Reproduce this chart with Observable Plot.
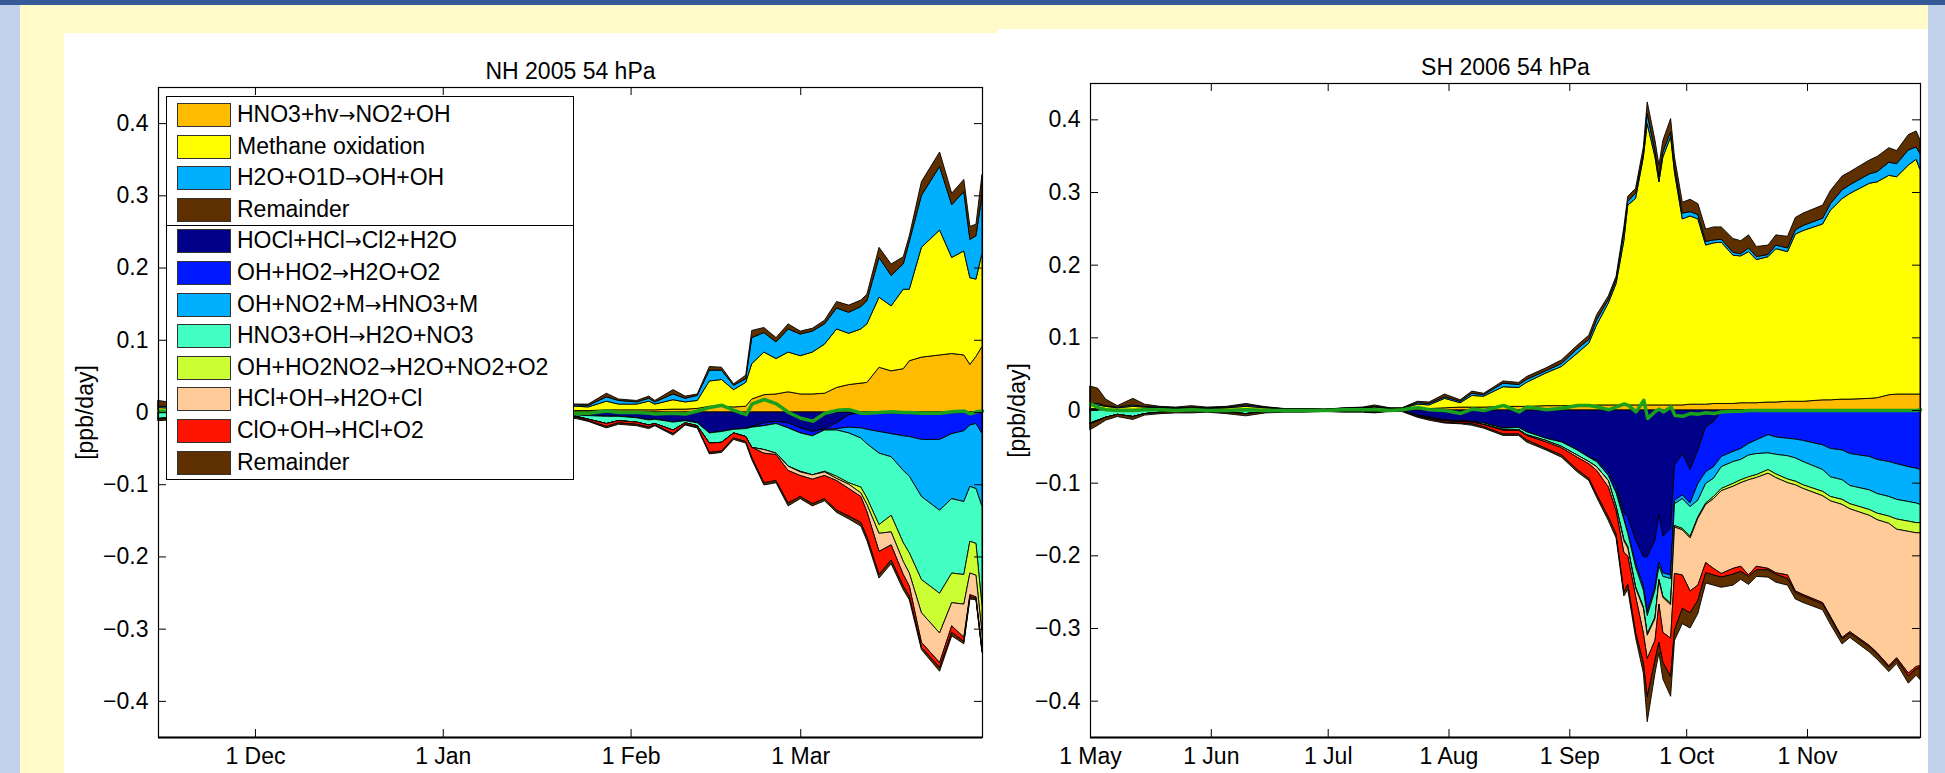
<!DOCTYPE html>
<html><head><meta charset="utf-8">
<script src="https://cdn.jsdelivr.net/npm/d3@7"></script>
<script src="https://cdn.jsdelivr.net/npm/@observablehq/plot@0.6"></script>
<style>
html,body{margin:0;padding:0}
body{width:1945px;height:773px;overflow:hidden;position:relative;background:#c2d1ea;font-family:"Liberation Sans",Arial,sans-serif}
#topbar{position:absolute;left:0;top:0;width:1945px;height:5px;background:#365a97}
#yellow{position:absolute;left:20px;top:5px;width:1908px;height:768px;background:#fffac8}
#pL{position:absolute;left:64px;top:33px;width:936px;height:740px;background:#fff}
#pR{position:absolute;left:997px;top:29px;width:931px;height:744px;background:#fff}
#pL svg,#pR svg{display:block}
#legend{position:absolute;left:166px;top:96px;width:408px;height:384px;box-sizing:border-box;border:1px solid #000;background:#fff;font-size:23px;color:#000}
.row{position:absolute;left:0;height:31.6px;width:100%}
.sw{position:absolute;left:10px;top:4px;width:52px;height:22px;border:1px solid #333}
.lb{position:absolute;left:70px;top:2px;line-height:26px;white-space:nowrap}
.ar{font-family:"DejaVu Sans",sans-serif;font-size:20px}
#sep{position:absolute;left:0;width:100%;height:0;border-top:1px solid #000}
</style></head>
<body>
<div id="topbar"></div><div id="yellow"></div>
<div id="pL"></div><div id="pR"></div>
<div id="legend"></div>
<script>
// ---------- shared ----------
const seriesKeys = ["HNO3+hv→NO2+OH","Methane oxidation","H2O+O1D→OH+OH","Remainder (prod)","HOCl+HCl→Cl2+H2O","OH+HO2→H2O+O2","OH+NO2+M→HNO3+M","HNO3+OH→H2O+NO3","OH+HO2NO2→H2O+NO2+O2","HCl+OH→H2O+Cl","ClO+OH→HCl+O2","Remainder (loss)"];
const seriesSign = [1,1,1,1,-1,-1,-1,-1,-1,-1,-1,-1];
const legendLabels = ["HNO3+hv→NO2+OH","Methane oxidation","H2O+O1D→OH+OH","Remainder","HOCl+HCl→Cl2+H2O","OH+HO2→H2O+O2","OH+NO2+M→HNO3+M","HNO3+OH→H2O+NO3","OH+HO2NO2→H2O+NO2+O2","HCl+OH→H2O+Cl","ClO+OH→HCl+O2","Remainder"];
const seriesColors = ["#ffbb00","#ffff00","#00b0ff","#5e3000","#000088","#0018ff","#00b0ff","#44ffc4","#ccff33","#ffcc99","#ff1400","#5e3000"];
const netColor = "#1aa01a";
const yTicks = [-0.4,-0.3,-0.2,-0.1,0,0.1,0.2,0.3,0.4];
const yTickLabels = ["−0.4","−0.3","−0.2","−0.1","0","0.1","0.2","0.3","0.4"];

// ---------- NH 2005 ----------
const nhTitle = "NH 2005 54 hPa";
const nhTickDates = ["2004-12-01","2005-01-01","2005-02-01","2005-03-01"];
const nhTickLabels = ["1 Dec","1 Jan","1 Feb","1 Mar"];
const nhDates = ["2004-11-15","2004-11-19","2004-11-25","2004-12-01","2004-12-08","2004-12-15","2004-12-22","2004-12-29","2005-01-05","2005-01-12","2005-01-19",
"2005-01-23","2005-01-25","2005-01-28","2005-01-30","2005-02-02","2005-02-04","2005-02-05","2005-02-08","2005-02-10","2005-02-12",
"2005-02-14","2005-02-16","2005-02-18","2005-02-20","2005-02-21","2005-02-23","2005-02-25","2005-02-27","2005-03-01","2005-03-03",
"2005-03-05","2005-03-07","2005-03-09","2005-03-11","2005-03-12","2005-03-14","2005-03-16","2005-03-18","2005-03-19","2005-03-21",
"2005-03-24","2005-03-26","2005-03-28","2005-03-29","2005-03-30","2005-03-31"];
const nhHNO3hv = [0.001,0.001,0.001,0.001,0.001,0.001,0.001,0.001,0.002,0.002,0.002,
0.002,0.002,0.003,0.003,0.003,0.003,0.003,0.004,0.004,0.005,
0.008,0.008,0.007,0.008,0.018,0.024,0.025,0.028,0.025,0.025,
0.026,0.034,0.038,0.040,0.041,0.062,0.057,0.060,0.071,0.076,
0.079,0.081,0.079,0.066,0.077,0.091];
const nhMethane = [0.005,0.004,0.004,0.003,0.003,0.003,0.004,0.004,0.005,0.005,0.006,
0.006,0.005,0.012,0.008,0.008,0.012,0.008,0.013,0.010,0.011,
0.035,0.037,0.024,0.033,0.049,0.059,0.049,0.055,0.053,0.058,
0.068,0.081,0.071,0.075,0.081,0.097,0.090,0.110,0.099,0.152,
0.173,0.133,0.144,0.120,0.107,0.129];
const nhH2OO1D = [0.002,0.002,0.001,0.001,0.001,0.001,0.001,0.001,0.002,0.002,0.002,
0.002,0.002,0.006,0.005,0.003,0.004,0.003,0.008,0.005,0.007,
0.015,0.013,0.006,0.005,0.036,0.027,0.023,0.032,0.030,0.029,
0.028,0.029,0.029,0.031,0.032,0.055,0.042,0.035,0.066,0.072,
0.088,0.073,0.082,0.053,0.060,0.080];
const nhRemainderProd = [0.008,0.004,0.003,0.002,0.002,0.002,0.002,0.002,0.002,0.002,0.002,
0.001,0.002,0.005,0.002,0.002,0.003,0.002,0.006,0.003,0.002,
0.005,0.004,0.002,0.005,0.010,0.007,0.006,0.007,0.004,0.004,
0.005,0.009,0.010,0.009,0.009,0.014,0.016,0.010,0.008,0.019,
0.020,0.016,0.017,0.018,0.016,0.029];
const nhHOClHCl = [-0.001,-0.001,-0.001,-0.002,-0.002,-0.002,-0.003,-0.003,-0.003,-0.004,-0.004,
-0.004,-0.005,-0.006,-0.006,-0.008,-0.011,-0.010,-0.014,-0.012,-0.015,
-0.029,-0.027,-0.024,-0.023,-0.020,-0.015,-0.013,-0.015,-0.022,-0.027,
-0.023,-0.015,-0.004,-0.001,-0.001,-0.001,-0.001,-0.001,-0.001,-0.001,
-0.001,-0.001,-0.001,-0.001,-0.001,-0.001];
const nhOHHO2 = [0,0,0,0,0,0,0,0,0,0,0,
0,0,0,0,0,0,0,0,0,0,
0,0,0,0,-0.001,-0.004,-0.003,-0.007,-0.007,-0.006,
-0.001,-0.008,-0.017,-0.021,-0.023,-0.026,-0.029,-0.032,-0.033,-0.037,
-0.037,-0.029,-0.025,-0.017,-0.015,-0.029];
const nhOHNO2M = [0,0,0,0,0,0,0,0,0,0,0,
0,0,0,0,0,0,0,0,0,0,
0,0,0,0,0,0,0,0,0,0,
-0.001,-0.002,-0.008,-0.014,-0.020,-0.030,-0.032,-0.048,-0.055,-0.079,
-0.098,-0.090,-0.098,-0.085,-0.090,-0.101];
const nhHNO3OH = [-0.008,-0.006,-0.005,-0.004,-0.004,-0.003,-0.003,-0.003,-0.003,-0.003,-0.003,
-0.002,-0.005,-0.010,-0.006,-0.006,-0.007,-0.006,-0.011,-0.003,-0.004,
-0.014,-0.015,-0.005,-0.011,-0.028,-0.033,-0.041,-0.053,-0.053,-0.054,
-0.057,-0.064,-0.069,-0.068,-0.075,-0.099,-0.081,-0.100,-0.106,-0.115,
-0.115,-0.103,-0.101,-0.076,-0.076,-0.138];
const nhOHHO2NO2 = [0,0,0,0,0,0,0,0,0,0,0,
0,0,0,0,0,0,0,0,0,0,
0,0,0,0,0,0,0,0,-0.001,0,
-0.001,-0.003,-0.002,-0.008,-0.009,-0.012,-0.023,-0.026,-0.028,-0.046,
-0.055,-0.041,-0.041,-0.044,-0.044,-0.037];
const nhHClOH = [0,0,0,0,0,0,0,0,0,0,0,
0,0,0,0,0,0,0,0,0,0,
0,0,0,0,0,-0.005,-0.002,-0.006,-0.005,-0.006,
-0.005,-0.003,-0.006,-0.005,-0.010,-0.025,-0.018,-0.018,-0.018,-0.041,
-0.041,-0.032,-0.046,-0.030,-0.030,-0.023];
const nhClOOH = [-0.001,-0.001,-0.001,-0.001,-0.001,-0.001,-0.001,-0.001,-0.001,-0.001,-0.001,
-0.001,-0.002,-0.004,-0.003,-0.003,-0.003,-0.002,-0.005,-0.002,-0.002,
-0.013,-0.012,-0.007,-0.007,-0.014,-0.041,-0.036,-0.045,-0.029,-0.034,
-0.032,-0.041,-0.038,-0.036,-0.035,-0.032,-0.021,-0.016,-0.014,-0.007,
-0.007,-0.009,-0.006,-0.003,-0.002,-0.002];
const nhRemainderLoss = [-0.002,-0.002,-0.002,-0.002,-0.002,-0.002,-0.002,-0.002,-0.002,-0.002,-0.002,
-0.002,-0.001,-0.002,-0.002,-0.002,-0.002,-0.001,-0.002,-0.001,-0.001,
-0.002,-0.002,-0.002,-0.002,-0.003,-0.003,-0.003,-0.004,-0.003,-0.003,
-0.003,-0.003,-0.004,-0.005,-0.005,-0.005,-0.005,-0.005,-0.005,-0.003,
-0.005,-0.005,-0.003,-0.003,-0.002,-0.002];
const nhNet = [0.002,0.001,0,-0.001,0,0,0,-0.001,0,-0.001,-0.001,
-0.001,-0.001,0.002,0,0,-0.001,-0.002,-0.001,-0.002,0.002,
0.007,0.010,0.003,-0.003,0.012,0.018,0.012,0,-0.008,-0.012,
-0.001,0.003,0.004,-0.001,-0.001,0,0.001,0,0,-0.001,
-0.001,0.001,0.002,-0.002,0.001,0.002];

// ---------- SH 2006 ----------
const shTitle = "SH 2006 54 hPa";
const shTickDates = ["2006-05-01","2006-06-01","2006-07-01","2006-08-01","2006-09-01","2006-10-01","2006-11-01"];
const shTickLabels = ["1 May","1 Jun","1 Jul","1 Aug","1 Sep","1 Oct","1 Nov"];
const shDates = ["2006-05-01","2006-05-03","2006-05-05","2006-05-08","2006-05-12","2006-05-15","2006-05-19","2006-05-23","2006-05-27","2006-05-31",
"2006-06-05","2006-06-10","2006-06-15","2006-06-20","2006-06-25","2006-06-30","2006-07-05","2006-07-10","2006-07-13","2006-07-17",
"2006-07-20","2006-07-24","2006-07-27","2006-07-31","2006-08-04","2006-08-07","2006-08-10","2006-08-15","2006-08-19","2006-08-21",
"2006-08-26","2006-08-30","2006-09-03","2006-09-06","2006-09-08","2006-09-11","2006-09-13","2006-09-15","2006-09-16","2006-09-18",
"2006-09-20","2006-09-21","2006-09-23","2006-09-24","2006-09-25","2006-09-27","2006-09-28","2006-09-30","2006-10-02","2006-10-04",
"2006-10-06","2006-10-08","2006-10-10","2006-10-13","2006-10-15","2006-10-17","2006-10-19","2006-10-22","2006-10-24","2006-10-27",
"2006-10-29","2006-10-31","2006-11-05","2006-11-07","2006-11-10","2006-11-12","2006-11-17","2006-11-19","2006-11-22","2006-11-24",
"2006-11-27","2006-11-29","2006-11-30"];
const shHNO3hv = [0.002,0.002,0.001,0.001,0.001,0.001,0.001,0.001,0.001,0.001,
0.001,0.001,0.001,0.0005,0.0005,0.0005,0.001,0.001,0.001,0.001,
0.001,0.002,0.002,0.003,0.004,0.004,0.004,0.005,0.005,0.005,
0.006,0.006,0.006,0.006,0.007,0.007,0.007,0.007,0.007,0.007,
0.007,0.007,0.007,0.007,0.007,0.007,0.007,0.007,0.008,0.008,
0.008,0.009,0.009,0.009,0.010,0.010,0.010,0.011,0.011,0.012,
0.012,0.012,0.014,0.014,0.015,0.015,0.016,0.017,0.021,0.022,
0.022,0.022,0.022];
const shMethane = [0.005,0.005,0.004,0.002,0.004,0.003,0.002,0.001,0.002,0.001,
0.002,0.004,0.002,0.001,0.001,0.0005,0.001,0.002,0.003,0.001,
0.001,0.006,0.005,0.013,0.006,0.016,0.015,0.027,0.026,0.033,
0.045,0.054,0.072,0.086,0.110,0.140,0.167,0.226,0.275,0.284,
0.341,0.387,0.341,0.307,0.341,0.369,0.320,0.256,0.259,0.255,
0.219,0.221,0.222,0.204,0.202,0.208,0.197,0.200,0.211,0.206,
0.230,0.235,0.242,0.261,0.276,0.283,0.296,0.297,0.302,0.299,
0.315,0.323,0.309];
const shH2OO1D = [0.002,0.002,0.001,0.001,0.002,0.001,0.001,0.001,0.001,0.001,
0.001,0.002,0.001,0,0,0,0.0005,0.0005,0.001,0.0005,
0.0005,0.002,0.002,0.002,0.002,0.003,0.002,0.005,0.004,0.004,
0.003,0.004,0.006,0.005,0.007,0.005,0.005,0.012,0.005,0.007,
0.005,0.014,0.007,0.007,0.007,0.007,0.007,0.008,0.006,0.006,
0.005,0.004,0.004,0.004,0.003,0.005,0.004,0.003,0.005,0.005,
0.006,0.007,0.008,0.009,0.012,0.012,0.013,0.014,0.018,0.018,
0.021,0.017,0.022];
const shRemainderProd = [0.024,0.021,0.009,0.002,0.009,0.003,0.001,0.001,0.002,0.001,
0.001,0.002,0.0005,0.0005,0.0005,0,0.0005,0.0005,0.002,0.0005,
0.0005,0.002,0.002,0.004,0.002,0.003,0.002,0.003,0.003,0.004,
0.004,0.005,0.005,0.006,0.007,0.005,0.005,0.007,0.007,0.007,
0.009,0.016,0.016,0.016,0.016,0.018,0.014,0.015,0.017,0.015,
0.017,0.018,0.017,0.019,0.018,0.018,0.014,0.013,0.014,0.016,
0.017,0.017,0.018,0.018,0.019,0.018,0.019,0.021,0.020,0.018,
0.021,0.022,0.019];
const shHOClHCl = [0,0,0,0,0,0,0,0,0,0,
0,0,0,-0.001,-0.001,-0.001,-0.001,-0.001,-0.002,-0.001,
-0.001,-0.007,-0.010,-0.014,-0.015,-0.016,-0.018,-0.025,-0.024,-0.030,
-0.039,-0.044,-0.055,-0.065,-0.069,-0.085,-0.105,-0.142,-0.147,-0.179,
-0.202,-0.202,-0.179,-0.144,-0.174,-0.163,-0.076,-0.060,-0.082,-0.055,
-0.023,-0.016,-0.002,0,0,0,0,0,0,0,
0,0,0,0,0,0,0,0,0,0,
0,0,0];
const shOHHO2 = [0,0,0,0,0,0,0,0,0,0,
0,0,0,0,0,0,0,0,0,0,
0,0,0,0,0,0,0,0,0,0,
0,0,0,0,-0.002,-0.005,-0.007,-0.007,-0.021,-0.032,
-0.041,-0.076,-0.064,-0.066,-0.050,-0.064,-0.048,-0.057,-0.046,-0.046,
-0.062,-0.062,-0.062,-0.057,-0.053,-0.046,-0.041,-0.034,-0.037,-0.039,
-0.040,-0.042,-0.048,-0.053,-0.055,-0.060,-0.064,-0.068,-0.071,-0.074,
-0.078,-0.080,-0.082];
const shOHNO2M = [0,0,0,0,0,0,0,0,0,0,
0,0,0,0,0,0,0,0,0,0,
0,0,0,0,0,0,0,0,0,0,
0,0,0,0,0,0,-0.002,-0.002,-0.002,-0.005,
-0.005,-0.005,-0.005,-0.005,-0.005,-0.005,-0.005,-0.005,-0.005,-0.023,
-0.016,-0.016,-0.014,-0.014,-0.015,-0.016,-0.019,-0.025,-0.024,-0.024,
-0.026,-0.029,-0.034,-0.039,-0.041,-0.044,-0.046,-0.047,-0.048,-0.049,
-0.048,-0.048,-0.048];
const shHNO3OH = [-0.018,-0.014,-0.010,-0.006,-0.009,-0.005,-0.003,-0.002,-0.002,-0.002,
-0.003,-0.005,-0.002,-0.001,-0.001,0,-0.001,-0.001,-0.001,0,
0,-0.001,-0.001,-0.001,-0.001,-0.001,-0.002,-0.002,-0.003,-0.004,
-0.003,-0.006,-0.007,-0.006,-0.007,-0.007,-0.018,-0.027,-0.018,-0.027,
-0.023,-0.025,-0.037,-0.018,-0.027,-0.034,-0.030,-0.041,-0.041,-0.023,
-0.027,-0.025,-0.030,-0.030,-0.028,-0.030,-0.029,-0.023,-0.027,-0.032,
-0.032,-0.032,-0.030,-0.027,-0.027,-0.025,-0.027,-0.027,-0.027,-0.027,
-0.027,-0.027,-0.025];
const shOHHO2NO2 = [0,0,0,0,0,0,0,0,0,0,
0,0,0,0,0,0,0,0,0,0,
0,0,0,0,0,0,0,0,0,0,
0,0,0,0,0,0,-0.001,-0.002,-0.002,-0.002,
-0.002,-0.002,-0.002,-0.002,-0.002,-0.002,-0.002,-0.002,-0.002,-0.002,
-0.002,-0.003,-0.003,-0.004,-0.004,-0.004,-0.004,-0.005,-0.005,-0.005,
-0.005,-0.005,-0.006,-0.006,-0.007,-0.007,-0.008,-0.009,-0.010,-0.014,
-0.014,-0.014,-0.014];
const shHClOH = [0,0,0,0,0,0,0,0,0,0,
0,0,0,0,0,0,0,0,0,0,
0,0,0,0,0,0,0,-0.001,-0.001,-0.001,
-0.002,-0.002,-0.003,-0.003,-0.005,-0.009,-0.006,-0.016,-0.011,-0.011,
-0.034,-0.032,-0.030,-0.032,-0.048,-0.046,-0.064,-0.062,-0.073,-0.092,
-0.080,-0.096,-0.114,-0.113,-0.115,-0.131,-0.122,-0.131,-0.131,-0.127,
-0.146,-0.146,-0.147,-0.159,-0.183,-0.169,-0.179,-0.183,-0.196,-0.177,
-0.195,-0.184,-0.183];
const shClOOH = [-0.001,-0.001,0,0,0,0,0,0,0,0,
0,0,0,0,0,0,0,0,0,0,
0,-0.001,-0.001,-0.002,-0.002,-0.002,-0.003,-0.005,-0.005,-0.006,
-0.009,-0.010,-0.017,-0.020,-0.033,-0.041,-0.032,-0.055,-0.039,-0.050,
-0.041,-0.053,-0.027,-0.053,-0.041,-0.053,-0.078,-0.046,-0.030,-0.021,
-0.014,-0.009,-0.005,-0.008,-0.007,-0.002,-0.005,-0.002,-0.002,-0.005,
-0.002,-0.002,-0.002,-0.002,-0.002,-0.002,-0.002,-0.002,-0.002,-0.002,
-0.004,-0.003,-0.003];
const shRemainderLoss = [-0.008,-0.006,-0.004,-0.003,-0.004,-0.002,-0.002,-0.002,-0.002,-0.001,
-0.002,-0.003,-0.002,-0.001,-0.001,-0.001,-0.001,-0.001,-0.001,-0.001,
-0.001,-0.001,-0.002,-0.001,-0.001,-0.002,-0.002,-0.002,-0.002,-0.003,
-0.002,-0.003,-0.003,-0.003,-0.004,-0.005,-0.005,-0.005,-0.007,-0.007,
-0.014,-0.034,-0.018,-0.014,-0.023,-0.027,-0.014,-0.021,-0.021,-0.018,
-0.014,-0.014,-0.014,-0.015,-0.011,-0.011,-0.009,-0.010,-0.011,-0.009,
-0.009,-0.009,-0.008,-0.009,-0.007,-0.006,-0.007,-0.007,-0.006,-0.006,
-0.010,-0.009,-0.016];
const shNet = [0.009,0.004,0.001,0,0,0.001,0.001,0,0.001,0,
0,0.001,0,0,0,0,0.001,0.001,0.001,0,
0.001,0.004,0.001,0,-0.004,0.002,0,0.007,-0.002,0.005,
0.001,0.003,0.007,0.007,0.005,0.001,0.005,0.009,0.007,-0.002,
0.014,-0.011,-0.001,0.002,-0.002,0.005,-0.007,-0.008,-0.004,-0.005,
-0.003,-0.004,-0.002,-0.001,-0.001,0,0,0,0,0,
0,0,0,0,0,0,0,0,0,0,
0,0,0.001];

// ---------- build ----------
const yLab = new Map(yTicks.map((v,i)=>[v, yTickLabels[i]]));
const font = "'Liberation Sans', Arial, sans-serif";

function panel(cfg){
  const {dates, series, net, tickDates, tickLabels, title, width, height, ml, mr, mt, mb} = cfg;
  series.forEach((s,j)=>{ if(s.length!==dates.length) throw new Error(title+" series "+j+" length "+s.length+" vs "+dates.length); });
  if(net.length!==dates.length) throw new Error(title+" net length "+net.length);
  const data = [];
  dates.forEach((d,i)=>series.forEach((s,j)=>data.push({date:new Date(d), key:seriesKeys[j], sign:seriesSign[j], value:s[i]})));
  const netData = dates.map((d,i)=>({date:new Date(d), value:net[i]}));
  const W = width-ml-mr, H = height-mt-mb;
  const xt = tickDates.map(d=>new Date(d));
  const xLab = new Map(xt.map((d,i)=>[+d, tickLabels[i]]));
  // loss terms are kept on the negative side of the stack even where they are zero
  const yStack = d => d.sign < 0 ? Math.min(d.value, -1e-12) : d.value;
  return Plot.plot({
    width, height, marginLeft:ml, marginRight:mr, marginTop:mt, marginBottom:mb,
    style:{fontFamily:font, fontSize:"23px", background:"transparent", color:"#000", overflow:"visible"},
    x:{type:"utc", domain:[new Date(dates[0]), new Date(dates[dates.length-1])]},
    y:{domain:[-0.45,0.45]},
    color:{domain:seriesKeys, range:seriesColors},
    marks:[
      Plot.areaY(data,{x:"date", y:yStack, z:"key", fill:"key", order:seriesKeys, stroke:"#000", strokeWidth:0.9, strokeLinejoin:"round"}),
      Plot.lineY(netData,{x:"date", y:"value", stroke:netColor, strokeWidth:3.5}),
      Plot.frame({stroke:"#000", strokeWidth:1.2}),
      Plot.ruleY([-0.45],{stroke:"#000", strokeWidth:2}),
      Plot.tickY(yTicks,{y:d=>d, insetRight:W-8, stroke:"#000"}),
      Plot.tickY(yTicks,{y:d=>d, insetLeft:W-8, stroke:"#000"}),
      Plot.tickX(xt,{x:d=>d, insetBottom:H-8, stroke:"#000"}),
      Plot.tickX(xt,{x:d=>d, insetTop:H-8, stroke:"#000"}),
      Plot.axisY(yTicks,{anchor:"left", tickSize:0, tickPadding:10, tickFormat:v=>yLab.get(v), label:"[ppb/day]", labelAnchor:"center", labelArrow:"none", labelOffset:82}),
      Plot.axisX(xt,{anchor:"bottom", tickSize:0, tickPadding:10, tickFormat:d=>xLab.get(+d), label:null}),
      Plot.text([title],{frameAnchor:"top", dy:-25, text:d=>d, fontSize:23})
    ]
  });
}

document.getElementById("pL").append(panel({
  dates:nhDates,
  series:[nhHNO3hv,nhMethane,nhH2OO1D,nhRemainderProd,nhHOClHCl,nhOHHO2,nhOHNO2M,nhHNO3OH,nhOHHO2NO2,nhHClOH,nhClOOH,nhRemainderLoss],
  net:nhNet, tickDates:nhTickDates, tickLabels:nhTickLabels, title:nhTitle,
  width:936, height:740, ml:94, mr:18, mt:54, mb:36
}));
document.getElementById("pR").append(panel({
  dates:shDates,
  series:[shHNO3hv,shMethane,shH2OO1D,shRemainderProd,shHOClHCl,shOHHO2,shOHNO2M,shHNO3OH,shOHHO2NO2,shHClOH,shClOOH,shRemainderLoss],
  net:shNet, tickDates:shTickDates, tickLabels:shTickLabels, title:shTitle,
  width:931, height:744, ml:93, mr:8, mt:54, mb:36
}));

// legend
const leg = document.getElementById("legend");
const rowH = 31.6;
legendLabels.forEach((lab,i)=>{
  const r = document.createElement("div");
  r.className = "row";
  r.style.top = (2 + i*rowH) + "px";
  const sw = document.createElement("div");
  sw.className = "sw"; sw.style.background = seriesColors[i];
  const t = document.createElement("div");
  t.className = "lb";
  lab.split("→").forEach((part,k)=>{
    if(k>0){ const a=document.createElement("span"); a.className="ar"; a.textContent="→"; t.append(a); }
    t.append(document.createTextNode(part));
  });
  r.append(sw, t); leg.append(r);
});
const sep = document.createElement("div");
sep.id = "sep"; sep.style.top = (2 + 4*rowH) + "px";
leg.append(sep);
</script>
</body></html>
